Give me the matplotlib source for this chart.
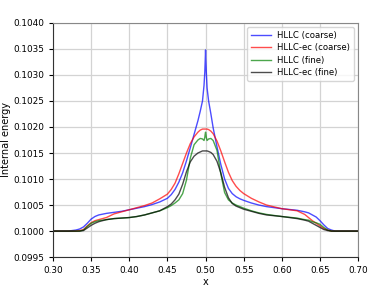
import matplotlib
matplotlib.use('Agg')
import matplotlib.pyplot as plt
from matplotlib.ticker import FormatStrFormatter, MultipleLocator

# sample positions (denser near the centre peak)
x = [0.30, 0.32, 0.33, 0.335, 0.34, 0.345, 0.35, 0.355, 0.36, 0.37,
     0.38, 0.39, 0.40, 0.41, 0.42, 0.43, 0.44, 0.45, 0.455, 0.46,
     0.465, 0.47, 0.475, 0.48, 0.485, 0.49, 0.493, 0.496, 0.498, 0.499,
     0.4995, 0.50, 0.5005, 0.501, 0.502, 0.504, 0.507, 0.51, 0.515, 0.52,
     0.525, 0.53, 0.535, 0.54, 0.545, 0.55, 0.56, 0.57, 0.58, 0.60,
     0.62, 0.63, 0.635, 0.64, 0.645, 0.65, 0.655, 0.66, 0.665, 0.67,
     0.70]

hllc_coarse = [0.10000, 0.10000, 0.10002, 0.10004, 0.10008, 0.10015, 0.10023, 0.10028, 0.10031, 0.10034,
               0.10036, 0.10038, 0.10041, 0.10044, 0.10047, 0.10051, 0.10056, 0.10063, 0.10070, 0.10080,
               0.10094, 0.10112, 0.10135, 0.10160, 0.10186, 0.10212, 0.10230, 0.10250, 0.10280, 0.10305,
               0.10325, 0.10348, 0.10325, 0.10305, 0.10275, 0.10250, 0.10225, 0.10198, 0.10162, 0.10128,
               0.10100, 0.10082, 0.10072, 0.10066, 0.10062, 0.10059, 0.10054, 0.10050, 0.10047, 0.10043,
               0.10040, 0.10037, 0.10035, 0.10031, 0.10027, 0.10020, 0.10012, 0.10005, 0.10002, 0.10000,
               0.10000]

hllc_ec_coarse = [0.10000, 0.10000, 0.10000, 0.10001, 0.10003, 0.10010, 0.10016, 0.10020, 0.10022, 0.10026,
                  0.10033, 0.10037, 0.10041, 0.10045, 0.10049, 0.10054, 0.10062, 0.10071, 0.10080, 0.10092,
                  0.10110, 0.10130, 0.10150, 0.10168, 0.10181, 0.10190, 0.10194, 0.10196, 0.10196, 0.10196,
                  0.10196, 0.10196, 0.10196, 0.10196, 0.10196, 0.10195, 0.10192, 0.10187, 0.10173, 0.10154,
                  0.10133, 0.10113, 0.10097, 0.10086, 0.10078, 0.10072, 0.10063, 0.10056, 0.10050, 0.10043,
                  0.10039, 0.10032, 0.10026, 0.10020, 0.10015, 0.10010, 0.10005, 0.10002, 0.10000, 0.10000,
                  0.10000]

hllc_fine = [0.10000, 0.10000, 0.10000, 0.10000, 0.10002, 0.10009, 0.10015, 0.10018, 0.10020, 0.10022,
             0.10024, 0.10025, 0.10026, 0.10028, 0.10031, 0.10035, 0.10039, 0.10045, 0.10049, 0.10054,
             0.10060, 0.10072, 0.10098, 0.10140, 0.10166, 0.10175, 0.10178, 0.10177, 0.10174, 0.10180,
             0.10186, 0.10190, 0.10186, 0.10180, 0.10174, 0.10177, 0.10178, 0.10174, 0.10155, 0.10110,
             0.10074, 0.10060, 0.10054, 0.10050, 0.10047, 0.10044, 0.10039, 0.10035, 0.10032, 0.10028,
             0.10025, 0.10022, 0.10021, 0.10018, 0.10016, 0.10013, 0.10007, 0.10002, 0.10000, 0.10000,
             0.10000]

hllc_ec_fine = [0.10000, 0.10000, 0.10000, 0.10000, 0.10001, 0.10006, 0.10011, 0.10015, 0.10018, 0.10022,
                0.10024, 0.10025, 0.10026, 0.10028, 0.10031, 0.10035, 0.10039, 0.10047, 0.10052, 0.10060,
                0.10071, 0.10090, 0.10114, 0.10133, 0.10144, 0.10150, 0.10152, 0.10154, 0.10154, 0.10154,
                0.10154, 0.10154, 0.10154, 0.10154, 0.10154, 0.10153, 0.10151, 0.10147, 0.10134, 0.10112,
                0.10084, 0.10064, 0.10053, 0.10048, 0.10045, 0.10042, 0.10038, 0.10034, 0.10031, 0.10028,
                0.10024, 0.10021, 0.10019, 0.10015, 0.10011, 0.10007, 0.10003, 0.10001, 0.10000, 0.10000,
                0.10000]

fs = 6.4
fig = plt.figure(figsize=(3.81, 2.86), dpi=100)
ax = fig.add_axes([0.139, 0.101, 0.801, 0.819])

ax.plot(x, hllc_coarse, color='b', alpha=0.7, lw=1.0, label='HLLC (coarse)')
ax.plot(x, hllc_ec_coarse, color='r', alpha=0.7, lw=1.0, label='HLLC-ec (coarse)')
ax.plot(x, hllc_fine, color='g', alpha=0.7, lw=1.0, label='HLLC (fine)')
ax.plot(x, hllc_ec_fine, color='k', alpha=0.7, lw=1.0, label='HLLC-ec (fine)')

ax.set_xlim(0.30, 0.70)
ax.set_ylim(0.0995, 0.1040)
ax.xaxis.set_major_locator(MultipleLocator(0.05))
ax.yaxis.set_major_locator(MultipleLocator(0.0005))
ax.xaxis.set_major_formatter(FormatStrFormatter('%.2f'))
ax.yaxis.set_major_formatter(FormatStrFormatter('%.4f'))
ax.tick_params(labelsize=fs, length=3, width=0.8)
ax.grid(True, color='#d3d3d3', lw=0.9)
ax.set_axisbelow(True)

for side in ['top', 'right']:
    ax.spines[side].set_color('#888888')
for side in ['left', 'bottom']:
    ax.spines[side].set_color('#333333')

ax.set_xlabel('x', fontsize=fs + 0.6, labelpad=1)
ax.set_ylabel('Internal energy', fontsize=fs + 0.6)
ax.yaxis.set_label_coords(-0.138, 0.5)
ax.legend(loc='upper right', fontsize=6.1, handlelength=2.4, handletextpad=0.7,
          framealpha=0.8, edgecolor='#cccccc', borderpad=0.45, labelspacing=0.4,
          borderaxespad=0.5)

fig.savefig('out.png', dpi=100)
